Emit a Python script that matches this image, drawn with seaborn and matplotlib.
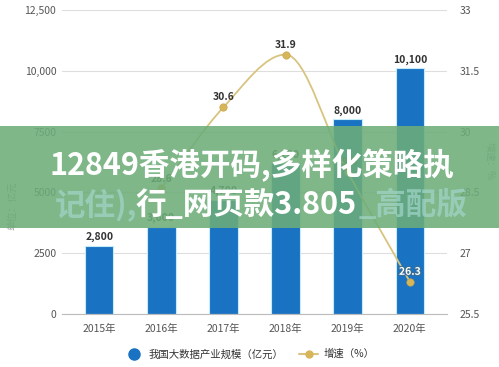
import numpy as np
import pandas as pd
import seaborn as sns
import matplotlib.pyplot as plt
from matplotlib.path import Path
from matplotlib.patches import PathPatch, Rectangle
from matplotlib.lines import Line2D
import matplotlib.patheffects as pe

# data
years = ['2015年', '2016年', '2017年', '2018年', '2019年', '2020年']
scale = [2800, 3600, 4700, 6200, 8000, 10100]
growth_years = ['2016年', '2017年', '2018年', '2019年', '2020年']
growth = [28.6, 30.6, 31.9, 29.0, 26.3]
left_ticks = [0, 2500, 5000, 7500, 10000, 12500]
left_labels = ['0', '2500', '5000', '7500', '10,000', '12,500']
right_ticks = [25.5, 27, 28.5, 30, 31.5, 33]
right_labels = ['25.5', '27', '28.5', '30', '31.5', '33']

sns.set_style('white')
plt.rcParams['font.family'] = ['Noto Sans CJK SC', 'DejaVu Sans']

bar_color = '#1a73c2'
line_color = '#d8c47e'
dot_color = '#d7b65a'

fig = plt.figure(figsize=(4.99, 3.67), dpi=100)
ax = fig.add_axes([0.124, 0.144, 0.772, 0.829])

df = pd.DataFrame({'year': years, 'scale': scale})
sns.barplot(data=df, x='year', y='scale', color=bar_color, saturation=1,
            width=0.46, edgecolor='#c4ecf8', linewidth=0.8, ax=ax)
ax.set_xlim(-0.6, 5.6)
ax.set_ylim(0, 12500)
ax.set_yticks(left_ticks, left_labels)
ax.set_xlabel('')
ax.set_ylabel('')
ax.yaxis.grid(True, color='#dedede', lw=0.8)
ax.set_axisbelow(True)
for s in ['top', 'left', 'right']:
    ax.spines[s].set_visible(False)
ax.spines['bottom'].set_color('#bbbbbb')
ax.tick_params(axis='y', length=0, labelsize=7.5, labelcolor='#555555', pad=4)
ax.tick_params(axis='x', length=4, color='#bbbbbb', labelsize=7.5, labelcolor='#555555', pad=3)

for i, v in enumerate(scale):
    ax.text(i, v + 150, f'{v:,}', ha='center', va='bottom', fontsize=7.5,
            fontweight='bold', color='#333333')

# growth line on the right axis
ax2 = ax.twinx()
gx = np.array([years.index(y) for y in growth_years], dtype=float)
gy = np.array(growth)

# smooth monotone-style curve through the points
sec = np.diff(gy) / np.diff(gx)
tan = np.zeros_like(gy)
tan[0] = sec[0]
tan[-1] = sec[-1]
for i in range(1, len(gy) - 1):
    if sec[i - 1] * sec[i] > 0:
        tan[i] = (sec[i - 1] + sec[i]) / 2
verts = [(gx[0], gy[0])]
codes = [Path.MOVETO]
for i in range(len(gx) - 1):
    h = gx[i + 1] - gx[i]
    verts += [(gx[i] + h / 3, gy[i] + tan[i] * h / 3),
              (gx[i + 1] - h / 3, gy[i + 1] - tan[i + 1] * h / 3),
              (gx[i + 1], gy[i + 1])]
    codes += [Path.CURVE4] * 3
ax2.add_patch(PathPatch(Path(verts, codes), facecolor='none', edgecolor=line_color, lw=1.3, zorder=3))
sns.scatterplot(x=gx, y=gy, ax=ax2, color=dot_color, s=28, edgecolor='#c8a54a', linewidth=0.5, zorder=4)

ax2.set_xlim(-0.6, 5.6)
ax2.set_ylim(25.5, 33)
ax2.set_yticks(right_ticks, right_labels)
for s in ['top', 'left', 'right', 'bottom']:
    ax2.spines[s].set_visible(False)
ax2.tick_params(axis='y', length=0, labelsize=7.5, labelcolor='#555555', pad=9)

for x, v in zip(gx, gy):
    if v == gy[-1]:
        ax2.text(x, v + 0.12, f'{v}', ha='center', va='bottom', fontsize=7.5,
                 fontweight='bold', color='white',
                 path_effects=[pe.withStroke(linewidth=1.6, foreground='#3a6f95')])
    else:
        ax2.text(x, v + 0.12, f'{v}', ha='center', va='bottom', fontsize=7.5,
                 fontweight='bold', color='#333333')

fig.text(0.025, 0.44, '单位：亿元', rotation=90, ha='center', va='center', fontsize=7, color='#999999')
fig.text(0.982, 0.56, '增速：%', rotation=270, ha='center', va='center', fontsize=7, color='#999999')

h1 = Line2D([], [], marker='o', ls='none', color=bar_color, markersize=8)
h2 = Line2D([], [], marker='o', color=line_color, markerfacecolor=dot_color,
            markeredgecolor=dot_color, markersize=5, lw=1.5)
fig.legend([h1, h2], ['我国大数据产业规模（亿元）', '增速（%）'], loc='center',
           bbox_to_anchor=(0.5, 0.035), ncol=2, frameon=False, fontsize=7.5,
           handlelength=1.8, columnspacing=1.5, handletextpad=0.5, labelcolor='#333333')

# green banner across the middle
fig.add_artist(Rectangle((0, 0.379), 1, 0.278, transform=fig.transFigure,
                         facecolor='#6dad79', alpha=0.88, edgecolor='none', zorder=10))
fig.text(0.505, 0.55, '12849香港开码,多样化策略执', ha='center', va='center', fontsize=22,
         fontweight='bold', color='white', zorder=12)
fig.text(0.494, 0.441, '行_网页款3.805', ha='center', va='center', fontsize=22,
         fontweight='bold', color='white', zorder=12)
fig.text(0.275, 0.441, '记住),', ha='right', va='center', fontsize=22,
         fontweight='bold', color='#a3d6cb', alpha=0.7, zorder=11)
fig.text(0.718, 0.441, '_高配版', ha='left', va='center', fontsize=22,
         fontweight='bold', color='#a3d6cb', alpha=0.7, zorder=11)

fig.savefig('out.png', dpi=100)
